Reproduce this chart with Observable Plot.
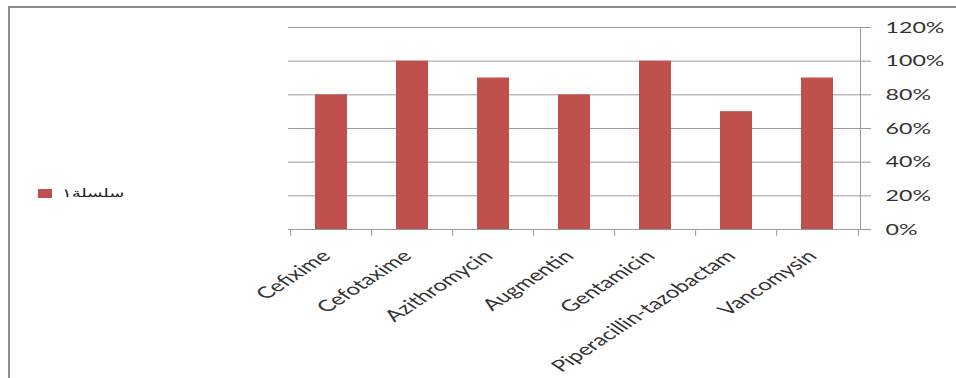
<!DOCTYPE html>
<html>
<head>
<meta charset="utf-8">
<script src="https://cdn.jsdelivr.net/npm/d3@7"></script>
<script src="https://cdn.jsdelivr.net/npm/@observablehq/plot@0.6"></script>
<style>
  html, body { margin: 0; padding: 0; background: #fff; overflow: hidden; }
  #wrap { position: relative; width: 956px; height: 378px; overflow: hidden; }
  #border { position: absolute; left: 8px; top: 6px; width: 1000px; height: 500px; border-top: 2px solid #8c8c8c; border-left: 2px solid #8c8c8c; }
  #chart { position: absolute; left: 0; top: 0; }
  #legend { position: absolute; left: 38px; top: 186px; display: flex; align-items: center; }
  #legend .sw { width: 14px; height: 9px; background: #C0504D; }
  #legend .lb { margin-left: 10px; font-family: "DejaVu Sans", sans-serif; font-size: 12px; color: #222; transform: scaleX(1.5); transform-origin: left center; direction: rtl; }
</style>
</head>
<body>
<div id="wrap">
  <div id="border"></div>
  <div id="chart"></div>
  <div id="legend"><div class="sw"></div><div class="lb">سلسلة١</div></div>
</div>
<script>
const categories = ["Cefixime", "Cefotaxime", "Azithromycin", "Augmentin", "Gentamicin", "Piperacillin-tazobactam", "Vancomysin"];
const values = [0.8, 1.0, 0.9, 0.8, 1.0, 0.7, 0.9];
const yTicks = [0, 0.2, 0.4, 0.6, 0.8, 1.0, 1.2];
const seriesName = "سلسلة١";

const data = categories.map((c, i) => ({category: c, value: values[i]}));

const W = 956, H = 378, mL = 288, mR = 96, mT = 27, mB = 149;
const step = (W - mL - mR) / categories.length;
const gridColor = "#9a9a9a";
const barColor = "#C0504D";

const chart = Plot.plot({
  width: W,
  height: H,
  marginLeft: mL,
  marginRight: mR,
  marginTop: mT,
  marginBottom: mB,
  style: {fontFamily: "Lato, sans-serif", color: "#333", background: "transparent"},
  x: {domain: categories, paddingInner: 0.6, paddingOuter: 0.3, label: null},
  y: {domain: [0, 1.2], label: null},
  marks: [
    Plot.ruleY(yTicks.filter(d => d > 0), {stroke: gridColor, strokeWidth: 1}),
    Plot.barY(data, {x: "category", y: "value", fill: barColor}),
    Plot.ruleY([0], {stroke: gridColor, strokeWidth: 1}),
    Plot.ruleX(categories, {x: d => d, y1: 0, y2: 0, dx: -step / 2, insetBottom: -7, stroke: gridColor}),
    Plot.ruleX(categories.slice(-1), {x: d => d, y1: 0, y2: 0, dx: step / 2, insetBottom: -7, stroke: gridColor}),
    Plot.frame({anchor: "right", stroke: gridColor}),
    Plot.axisY({anchor: "right", ticks: yTicks, tickFormat: d => Math.round(d * 100) + "%", tickSize: 10, tickPadding: 15, stroke: gridColor, fontSize: 16, fill: "#333"}),
    Plot.axisX({tickSize: 0, tickRotate: -45, tickPadding: 8, dx: -5, dy: 16, fontSize: 16, fill: "#333"})
  ]
});

document.getElementById("chart").appendChild(chart);

// emulate the horizontally stretched rendering of the original
d3.select(chart).selectAll('g[aria-label="x-axis tick label"] text').each(function() {
  const t = this.getAttribute("transform") || "";
  this.setAttribute("transform", t.replace("rotate(", "scale(1.52,1) rotate("));
});
d3.select(chart).selectAll('g[aria-label="y-axis tick label"] text').each(function() {
  const t = this.getAttribute("transform") || "";
  this.setAttribute("transform", t + " scale(1.45,1)");
});
</script>
</body>
</html>
